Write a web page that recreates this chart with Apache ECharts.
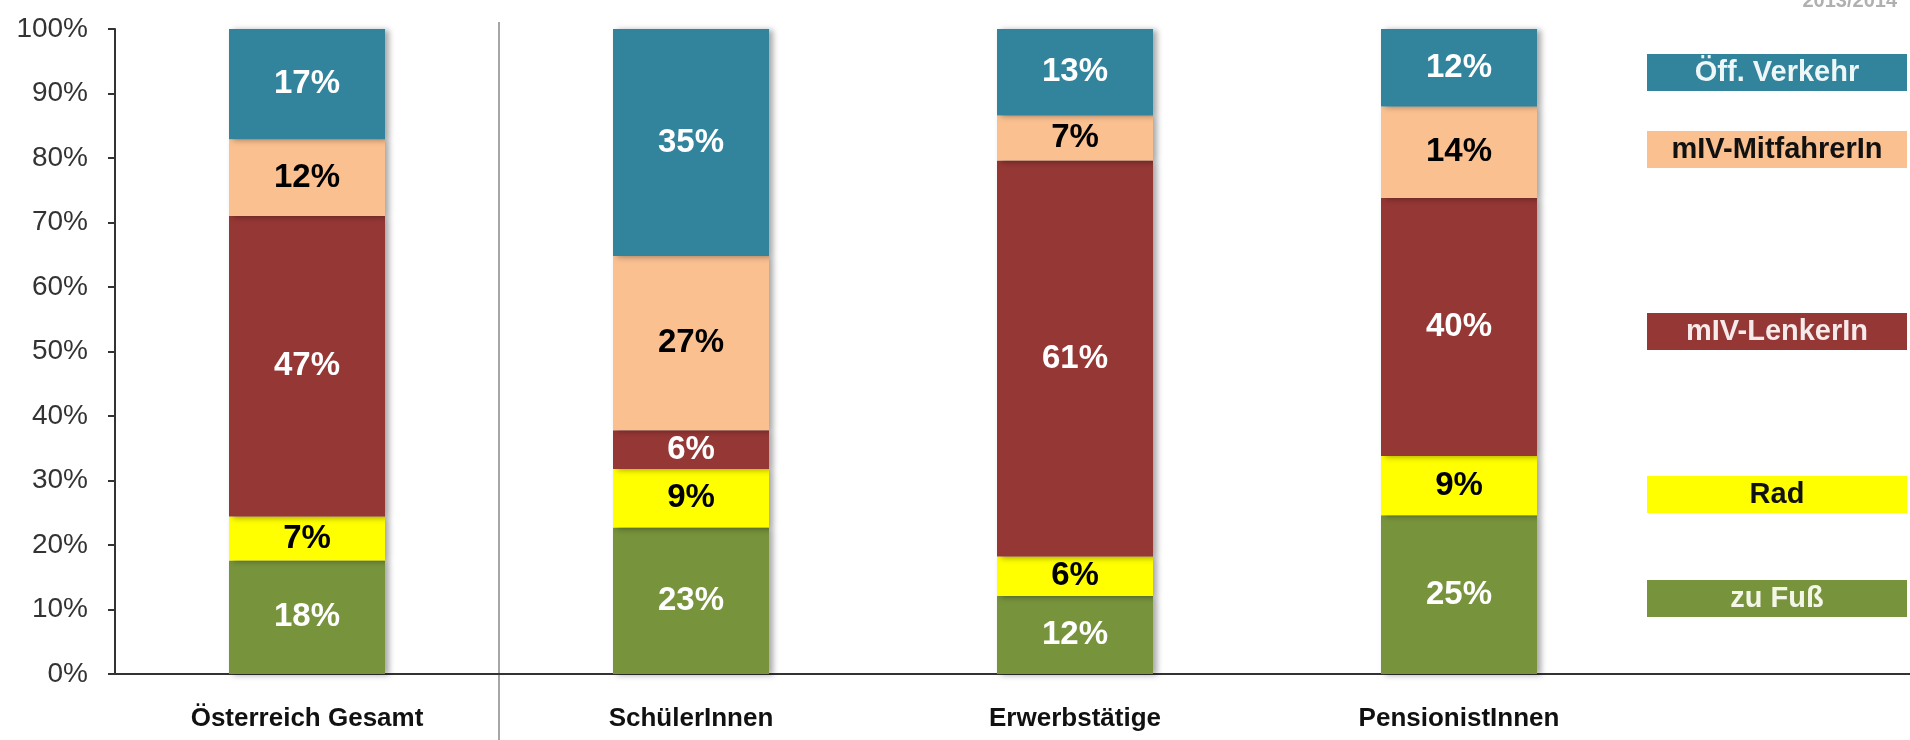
<!DOCTYPE html>
<html>
<head>
<meta charset="utf-8">
<script src="https://cdn.jsdelivr.net/npm/echarts@6/dist/echarts.min.js"></script>
<style>
  html, body { margin: 0; padding: 0; background: #fff; }
  #main { width: 1910px; height: 740px; }
</style>
</head>
<body>
<div id="main"></div>
<script>
// Kategorien
const categories = ['Österreich Gesamt', 'SchülerInnen', 'Erwerbstätige', 'PensionistInnen'];

// Anteile je Verkehrsmittel (in %, wie im Bild gezeichnet)
const zuFuss     = [17.6, 22.7, 12.1, 24.6];
const rad        = [6.8, 9.1, 6.1, 9.2];
const mivLenker  = [46.6, 6.0, 61.4, 40.0];
const mivMitfahr = [11.9, 27.0, 7.0, 14.2];
const oeffVerk   = [17.1, 35.2, 13.4, 12.0];

const seriesNames = ['zu Fuß', 'Rad', 'mIV-LenkerIn', 'mIV-MitfahrerIn', 'Öff. Verkehr'];
const seriesData = [zuFuss, rad, mivLenker, mivMitfahr, oeffVerk];
const colors = ['#77933c', '#ffff00', '#953735', '#fac090', '#31849b'];
const labelColors = ['#ffffff', '#000000', '#ffffff', '#000000', '#ffffff'];
const legendTextColors = ['#f4f6e8', '#111111', '#f6eaea', '#111111', '#eef6f8'];
const legendTops = [575, 471, 308, 126, 49];

const yTicks = [0, 10, 20, 30, 40, 50, 60, 70, 80, 90, 100];

const W = 1910, H = 740;
const gridLeft = 115, gridRight = 259, gridTop = 29, gridBottom = 66;
const font = '"Liberation Sans", Arial, sans-serif';

const chart = echarts.init(document.getElementById('main'));

const series = seriesNames.map((name, i) => ({
    name: name,
    type: 'bar',
    stack: 'gesamt',
    barWidth: 156,
    data: seriesData[i],
    itemStyle: {
        color: colors[i],
        shadowColor: 'rgba(0,0,0,0.35)',
        shadowBlur: 6,
        shadowOffsetX: 4,
        shadowOffsetY: 1
    },
    label: {
        show: true,
        position: 'inside',
        formatter: p => Math.round(p.value) + '%',
        color: labelColors[i],
        fontFamily: font,
        fontWeight: 'bold',
        fontSize: 33
    },
    emphasis: { disabled: true }
}));

// Legende: je ein Kasten mit Text drin
const legends = seriesNames.map((name, i) => ({
    data: [name],
    left: 1637,
    top: legendTops[i],
    icon: 'none',
    itemWidth: 0,
    itemHeight: 37,
    selectedMode: false,
    formatter: n => '{b|' + n + '}',
    textStyle: {
        rich: {
            b: {
                width: 260,
                height: 37,
                lineHeight: 37,
                align: 'center',
                backgroundColor: colors[i],
                color: legendTextColors[i],
                fontFamily: font,
                fontWeight: 'bold',
                fontSize: 29
            }
        }
    }
}));

const option = {
    animation: false,
    title: {
        text: '2013/2014',
        right: 8,
        top: -14,
        textStyle: { color: '#b0b0b0', fontSize: 20, fontWeight: 'bold', fontFamily: font }
    },
    legend: legends,
    grid: { left: gridLeft, right: gridRight, top: gridTop, bottom: gridBottom },
    xAxis: {
        type: 'category',
        data: categories,
        axisLine: { lineStyle: { color: '#333', width: 2 } },
        axisTick: { show: false },
        axisLabel: {
            color: '#111',
            fontFamily: font,
            fontWeight: 'bold',
            fontSize: 26,
            margin: 32
        }
    },
    yAxis: {
        type: 'value',
        min: 0,
        max: 100,
        interval: 10,
        axisLine: { show: true, lineStyle: { color: '#333', width: 2 } },
        axisTick: { show: true, length: 7, lineStyle: { color: '#333', width: 2 } },
        splitLine: { show: false },
        axisLabel: {
            formatter: '{value}%',
            color: '#333',
            fontFamily: font,
            fontSize: 28,
            margin: 27
        }
    },
    series: series
};

chart.setOption(option);

// Trennlinie zwischen "Österreich Gesamt" und den Gruppen, x-Achse bis zum rechten Rand
const y0 = chart.convertToPixel({ yAxisIndex: 0 }, yTicks[0]);
const xDiv = (chart.convertToPixel({ xAxisIndex: 0 }, categories[0]) +
              chart.convertToPixel({ xAxisIndex: 0 }, categories[1])) / 2;
chart.setOption({
    graphic: [{
        type: 'line',
        shape: { x1: W - gridRight, y1: y0, x2: W, y2: y0 },
        style: { stroke: '#333', lineWidth: 2 }
    }, {
        type: 'line',
        shape: { x1: xDiv, y1: 22, x2: xDiv, y2: H },
        style: { stroke: '#888', lineWidth: 1.5 }
    }]
});
</script>
</body>
</html>
